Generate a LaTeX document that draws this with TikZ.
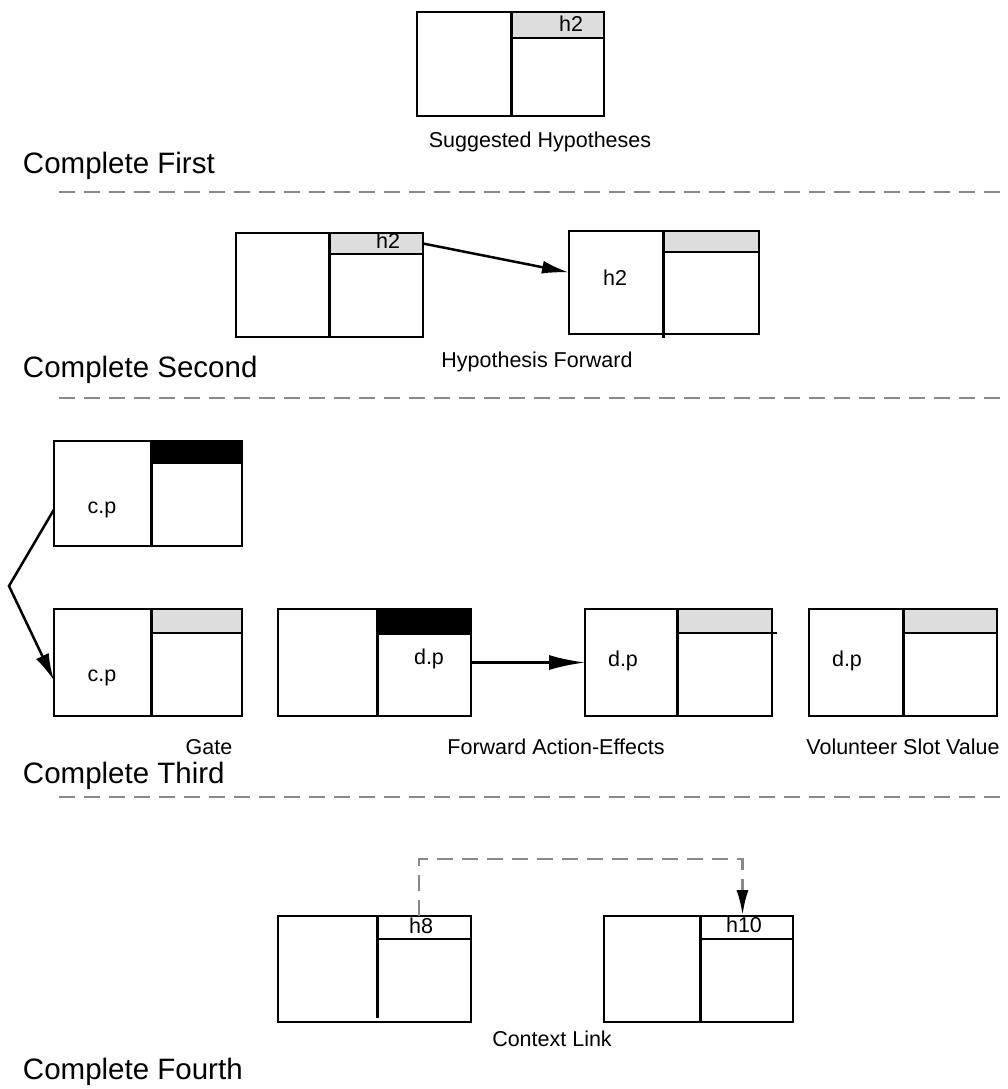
\documentclass[tikz,border=0pt]{standalone}
\usepackage{fontspec}
\setmainfont{Liberation Sans}
\usetikzlibrary{arrows.meta}

\definecolor{hdrgrey}{HTML}{DDDDDD}
\definecolor{dashgrey}{HTML}{888888}

\begin{document}
\begin{tikzpicture}[x=1pt,y=-1pt,
    every node/.style={font=\fontsize{21.5}{24}\selectfont, inner sep=0pt, outer sep=0pt},
    frame/.style={draw, line width=2.5pt},
    hdr/.style={draw, line width=2pt, anchor=north east},
    divl/.style={line width=3pt},
    stage/.style={font=\fontsize{29.5}{34}\selectfont, anchor=base west},
    sepline/.style={dashgrey, line width=2.5pt, dash pattern=on 16pt off 9pt},
    link/.style={dashgrey, line width=2.5pt, dash pattern=on 16pt off 9pt}]
    \useasboundingbox (0,0) rectangle (1007,1089);

    % first
    \node[frame, minimum width=187, minimum height=104] (b1) at (510.5,64) {};
    \node[hdr, fill=hdrgrey, minimum width=93, minimum height=26] (b1h) at (b1.north east) {};
    \draw[divl] (b1h.north west) -- (b1h.north west |- b1.south);
    \node[anchor=base] (q1) at (571,32) {h2};
    \node[anchor=base] (c1) at (540,147) {Suggested Hypotheses};
    \node[stage] (s1) at (23,173) {Complete First};
    \draw[sepline] (59,192) -- (1007,192);

    % second
    \node[frame, minimum width=187, minimum height=104] (b2a) at (329.5,285) {};
    \node[hdr, fill=hdrgrey, minimum width=94, minimum height=21] (b2ah) at (b2a.north east) {};
    \draw[divl] (b2ah.north west) -- (b2ah.north west |- b2a.south);
    \node[anchor=base] (q2a) at (388,248) {h2};
    \node[frame, minimum width=190, minimum height=103] (b2b) at (664,282.5) {};
    \node[hdr, fill=hdrgrey, minimum width=96, minimum height=21] (b2bh) at (b2b.north east) {};
    \draw[divl, shorten >=-4pt] (b2bh.north west) -- (b2bh.north west |- b2b.south);
    \node[anchor=base] (q2b) at (615,285) {h2};
    \draw[line width=2.5pt, -{Latex[length=27pt,width=13pt]}] (b2ah.east) -- ([yshift=10pt]b2b.west);
    \node[anchor=base] (c2) at (537,367) {Hypothesis Forward};
    \node[stage] (s2) at (23,377) {Complete Second};
    \draw[sepline] (59,398) -- (1007,398);

    % third
    \node[frame, minimum width=188, minimum height=105] (b3a) at (148,493.5) {};
    \node[hdr, fill=black, minimum width=91, minimum height=22] (b3ah) at (b3a.north east) {};
    \draw[divl] (b3ah.north west) -- (b3ah.north west |- b3a.south);
    \node[anchor=base] (q3a) at (102,513) {c.p};
    \node[frame, minimum width=188, minimum height=107] (b3b) at (148,662.5) {};
    \node[hdr, fill=hdrgrey, minimum width=91, minimum height=24] (b3bh) at (b3b.north east) {};
    \draw[divl] (b3bh.north west) -- (b3bh.north west |- b3b.south);
    \node[anchor=base] (q3b) at (102,681) {c.p};
    \coordinate (gbend) at (9,586);
    \draw[line width=2.5pt, -{Latex[length=27pt,width=14pt]}] ([yshift=-16pt]b3a.west) -- (gbend) -- ([yshift=-18pt]b3b.west);
    \node[anchor=base] (c3a) at (209,754) {Gate};

    \node[frame, minimum width=193, minimum height=107] (b3c) at (374.5,662.5) {};
    \node[hdr, fill=black, minimum width=94, minimum height=25] (b3ch) at (b3c.north east) {};
    \draw[divl] (b3ch.north west) -- (b3ch.north west |- b3c.south);
    \node[anchor=base] (q3c) at (429,664) {d.p};
    \node[frame, minimum width=187, minimum height=107] (b3d) at (678.5,662.5) {};
    \node[hdr, fill=hdrgrey, minimum width=95, minimum height=24] (b3dh) at (b3d.north east) {};
    \draw[divl] (b3dh.north west) -- (b3dh.north west |- b3d.south);
    \draw[line width=2pt] (b3dh.south east) -- ++(5,0);
    \node[anchor=base] (q3d) at (623,666) {d.p};
    \draw[line width=2.5pt, -{Latex[length=36pt,width=15pt]}] (b3c.east) -- (b3d.west);
    \node[anchor=base] (c3b) at (556,754) {Forward Action-Effects};

    \node[frame, minimum width=188, minimum height=107] (b3e) at (903,662.5) {};
    \node[hdr, fill=hdrgrey, minimum width=94, minimum height=24] (b3eh) at (b3e.north east) {};
    \draw[divl] (b3eh.north west) -- (b3eh.north west |- b3e.south);
    \node[anchor=base] (q3e) at (847,666) {d.p};
    \node[anchor=base] (c3c) at (903,754) {Volunteer Slot Value};
    \node[stage] (s3) at (23,783) {Complete Third};
    \draw[sepline] (59,797) -- (1007,797);

    % fourth
    \node[frame, minimum width=193, minimum height=106] (b4a) at (374.5,969) {};
    \node[hdr, minimum width=94, minimum height=23] (b4ah) at (b4a.north east) {};
    \draw[divl, shorten >=4pt] (b4ah.north west) -- (b4ah.north west |- b4a.south);
    \node[anchor=base] (q4a) at (421,933) {h8};
    \node[frame, minimum width=189, minimum height=106] (b4b) at (698.5,969) {};
    \node[hdr, minimum width=93, minimum height=23] (b4bh) at (b4b.north east) {};
    \draw[divl] (b4bh.north west) -- (b4bh.north west |- b4b.south);
    \node[anchor=base] (q4b) at (744,932) {h10};
    \coordinate (ltop) at (580,859);
    \draw[link] ([xshift=-5pt]b4ah.north) |- (ltop) -| ([xshift=-4pt,yshift=26pt]b4bh.north);
    \draw[line width=2.5pt, -{Latex[length=25pt,width=12pt]}] ([xshift=-4pt,yshift=26pt]b4bh.north) -- ([xshift=-4pt,yshift=1pt]b4bh.north);
    \node[anchor=base] (c4) at (552,1046) {Context Link};
    \node[stage] (s4) at (23,1079) {Complete Fourth};
\end{tikzpicture}
\end{document}
